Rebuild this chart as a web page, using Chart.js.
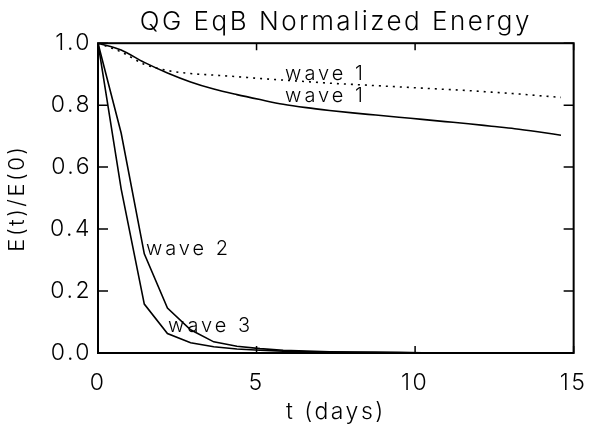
<!DOCTYPE html>
<html>
<head>
<meta charset="utf-8">
<script src="https://cdn.jsdelivr.net/npm/chart.js@4.4.1/dist/chart.umd.min.js"></script>
<style>
  html, body { margin: 0; padding: 0; background: #fff; }
  #wrap { width: 601px; height: 429px; }
</style>
</head>
<body>
<div id="wrap"><canvas id="chart" width="601" height="429"></canvas></div>
<script>
const FONT = "Inter, 'DejaVu Sans', sans-serif"

// time in days
const days = [0, 0.73, 1.46, 2.19, 2.92, 3.65, 4.38, 5.11, 5.84, 6.57, 7.3,
              8.03, 8.76, 9.49, 10.22, 10.95, 11.68, 12.41, 13.14, 13.87, 14.6]

// normalized energy E(t)/E(0)
const wave1 = [1.0, 0.978, 0.938, 0.904, 0.875, 0.852, 0.834, 0.818, 0.803, 0.792, 0.783,
               0.775, 0.768, 0.761, 0.754, 0.747, 0.740, 0.732, 0.724, 0.714, 0.703]
const wave1Dotted = [1.0, 0.972, 0.932, 0.912, 0.902, 0.897, 0.892, 0.886, 0.881, 0.876, 0.871,
                     0.867, 0.863, 0.859, 0.855, 0.851, 0.847, 0.842, 0.837, 0.831, 0.825]
const wave2 = [1.0, 0.71, 0.32, 0.145, 0.075, 0.036, 0.022, 0.014, 0.009, 0.006, 0.004,
               0.003, 0.002, 0.002, 0.001, 0.001, 0.001, 0.0, 0.0, 0.0, 0.0]
const wave3 = [1.0, 0.53, 0.158, 0.063, 0.033, 0.02, 0.013, 0.009, 0.006, 0.004, 0.003,
               0.002, 0.002, 0.001, 0.001, 0.001, 0.0, 0.0, 0.0, 0.0, 0.0]

const xTicks = [0, 5, 10, 15]
const yTicks = [0.0, 0.2, 0.4, 0.6, 0.8, 1.0]

// curve labels: text, t, E
const labelText = ["wave 1", "wave 1", "wave 2", "wave 3"]
const labelT = [5.9, 5.9, 1.51, 2.21]
const labelE = [0.881, 0.811, 0.316, 0.069]

const pts = (ys) => days.map((d, i) => ({ x: d, y: ys[i] }))

// the old plotting font is wide, so spread all the text a little
const spacing = {
  id: "spacing",
  beforeDraw(chart) { chart.ctx.letterSpacing = "2.5px" }
}

// box around the plot with inward tick marks on all four sides
const frame = {
  id: "frame",
  afterDatasetsDraw(chart) {
    const { ctx, chartArea: a, scales } = chart
    ctx.save()
    ctx.strokeStyle = "#000"
    ctx.lineWidth = 2
    ctx.strokeRect(a.left, a.top, a.right - a.left, a.bottom - a.top)
    ctx.lineWidth = 1.5
    ctx.beginPath()
    yTicks.forEach(v => {
      const y = scales.y.getPixelForValue(v)
      ctx.moveTo(a.left, y); ctx.lineTo(a.left + 10, y)
      ctx.moveTo(a.right, y); ctx.lineTo(a.right - 10, y)
    })
    xTicks.forEach(v => {
      const x = scales.x.getPixelForValue(v)
      ctx.moveTo(x, a.bottom); ctx.lineTo(x, a.bottom - 7)
      ctx.moveTo(x, a.top); ctx.lineTo(x, a.top + 7)
    })
    ctx.stroke()

    ctx.fillStyle = "#000"
    ctx.font = "300 20px " + FONT
    ctx.letterSpacing = "3px"
    ctx.textAlign = "left"
    ctx.textBaseline = "alphabetic"
    labelText.forEach((t, i) => {
      ctx.fillText(t, scales.x.getPixelForValue(labelT[i]), scales.y.getPixelForValue(labelE[i]))
    })
    ctx.restore()
  }
}

const line = (label, ys, dash, smooth) => ({
  label: label,
  data: pts(ys),
  borderColor: "#000",
  borderWidth: 1.6,
  borderDash: dash || [],
  pointRadius: 0,
  cubicInterpolationMode: smooth ? "monotone" : "default",
  tension: 0,
  fill: false
})

new Chart(document.querySelector("#chart").getContext("2d"), {
  type: "line",
  data: {
    datasets: [
      line("wave 1", wave1, null, true),
      line("wave 1 (dotted)", wave1Dotted, [2, 5], true),
      line("wave 2", wave2),
      line("wave 3", wave3)
    ]
  },
  options: {
    responsive: false,
    animation: false,
    layout: { padding: { left: 0, right: 15, top: 0, bottom: 0 } },
    plugins: {
      legend: { display: false },
      tooltip: { enabled: false },
      title: {
        display: true,
        text: "QG EqB Normalized Energy",
        fullSize: false,
        color: "#000",
        font: { family: FONT, size: 26, weight: 300 },
        padding: { top: 7, bottom: 5 }
      }
    },
    scales: {
      x: {
        type: "linear",
        min: 0, max: 15,
        afterFit: s => { s.height = 76 },
        afterBuildTicks: s => { s.ticks = xTicks.map(v => ({ value: v })) },
        grid: { display: false, drawTicks: false },
        border: { display: false },
        ticks: { color: "#000", padding: 16, font: { family: FONT, size: 23, weight: 300 }, maxRotation: 0 },
        title: {
          display: true, text: "t (days)", color: "#000",
          font: { family: FONT, size: 23, weight: 300 },
          padding: { top: 0, bottom: 3 }
        }
      },
      y: {
        type: "linear",
        min: 0, max: 1.0,
        afterFit: s => { s.width = 98 },
        afterBuildTicks: s => { s.ticks = yTicks.map(v => ({ value: v })) },
        grid: { display: false, drawTicks: false },
        border: { display: false },
        ticks: {
          color: "#000", padding: 6,
          font: { family: FONT, size: 23, weight: 300 },
          callback: v => v.toFixed(1)
        },
        title: {
          display: true, text: "E(t)/E(0)", color: "#000",
          font: { family: FONT, size: 22, weight: 300 },
          padding: { top: 4, bottom: 0 }
        }
      }
    }
  },
  plugins: [spacing, frame]
})
</script>
</body>
</html>
